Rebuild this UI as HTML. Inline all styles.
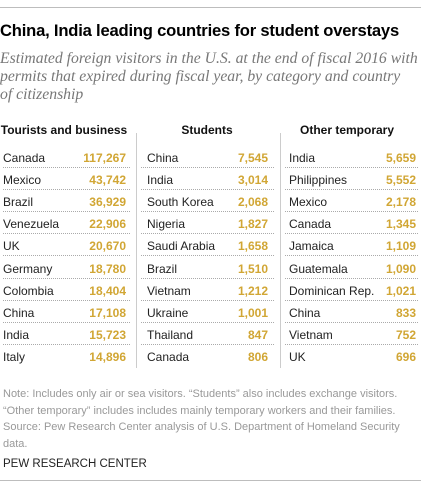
<!DOCTYPE html>
<html><head><meta charset="utf-8"><style>
body{margin:0;width:421px;height:488px;background:#fff;position:relative;overflow:hidden;font-family:"Liberation Sans",sans-serif}
.a{position:absolute;white-space:nowrap}
.hr{position:absolute;left:0;width:421px;height:1px;background:#bdbdbd}
.title{left:0;top:21px;font-size:16.6px;font-weight:bold;color:#000;letter-spacing:-0.2px}
.sub{left:0;top:50px;font-family:"Liberation Serif",serif;font-style:italic;font-size:15.7px;line-height:18px;color:#777;white-space:normal;width:421px}
.hd{font-size:12px;font-weight:bold;color:#111;transform:translateX(-50%)}
.nm{font-size:12px;color:#222}
.vl{font-size:12px;font-weight:bold;color:#d1a634;text-align:right}
.dot{position:absolute;height:0;border-top:1px dotted #aaa}
.div{position:absolute;width:1px;background:#ccc;top:133px;height:235px}
.note{left:3px;top:386px;font-size:11px;line-height:16.5px;color:#999}
.pew{left:3px;top:458px;font-size:11.5px;color:#222}
</style></head><body>
<div class="hr" style="top:7px"></div>
<div class="a title">China, India leading countries for student overstays</div>
<div class="a sub">Estimated foreign visitors in the U.S. at the end of fiscal 2016 with<br>permits that expired during fiscal year, by category and country<br>of citizenship</div>
<div id="tbl"></div>
<div class="div" style="left:136px"></div>
<div class="div" style="left:280px"></div>
<div class="a note">Note: Includes only air or sea visitors. “Students” also includes exchange visitors.<br>“Other temporary” includes includes mainly temporary workers and their families.<br>Source: Pew Research Center analysis of U.S. Department of Homeland Security<br>data.</div>
<div class="a pew">PEW RESEARCH CENTER</div>
<div class="hr" style="top:480px"></div>
<script>
const categories=["Tourists and business","Students","Other temporary"];
const touristCountries=["Canada","Mexico","Brazil","Venezuela","UK","Germany","Colombia","China","India","Italy"];
const touristValues=[117267,43742,36929,22906,20670,18780,18404,17108,15723,14896];
const studentCountries=["China","India","South Korea","Nigeria","Saudi Arabia","Brazil","Vietnam","Ukraine","Thailand","Canada"];
const studentValues=[7545,3014,2068,1827,1658,1510,1212,1001,847,806];
const otherCountries=["India","Philippines","Mexico","Canada","Jamaica","Guatemala","Dominican Rep.","China","Vietnam","UK"];
const otherValues=[5659,5552,2178,1345,1109,1090,1021,833,752,696];
const cols=[{x0:3,x1:130,nx:3,vr:126,hc:64},{x0:141,x1:274,nx:147,vr:268,hc:207},{x0:285,x1:418,nx:289,vr:416,hc:347}];
const names=[touristCountries,studentCountries,otherCountries];
const vals=[touristValues,studentValues,otherValues];
const t=document.getElementById('tbl');
const rowY=i=>158+i*22.1;
categories.forEach((c,ci)=>{
  const col=cols[ci];
  const h=document.createElement('div');h.className='a hd';h.textContent=c;
  h.style.left=col.hc+'px';h.style.top='123px';
  
  
  t.appendChild(h);
  names[ci].forEach((n,i)=>{
    const y=rowY(i);
    const a=document.createElement('div');a.className='a nm';a.textContent=n;
    a.style.left=col.nx+'px';a.style.top=(y-7)+'px';
    
    
    t.appendChild(a);
    const v=document.createElement('div');v.className='a vl';v.textContent=vals[ci][i].toLocaleString('en-US');
    v.style.right=(421-col.vr)+'px';v.style.top=(y-7)+'px';
    
    
    t.appendChild(v);
    if(i<names[ci].length-1){
      const d=document.createElement('div');d.className='dot';
      d.style.left=col.x0+'px';d.style.width=(col.x1-col.x0)+'px';d.style.top=(y+9)+'px';
      
      
      t.appendChild(d);
    }
  });
});
</script>
</body></html>
